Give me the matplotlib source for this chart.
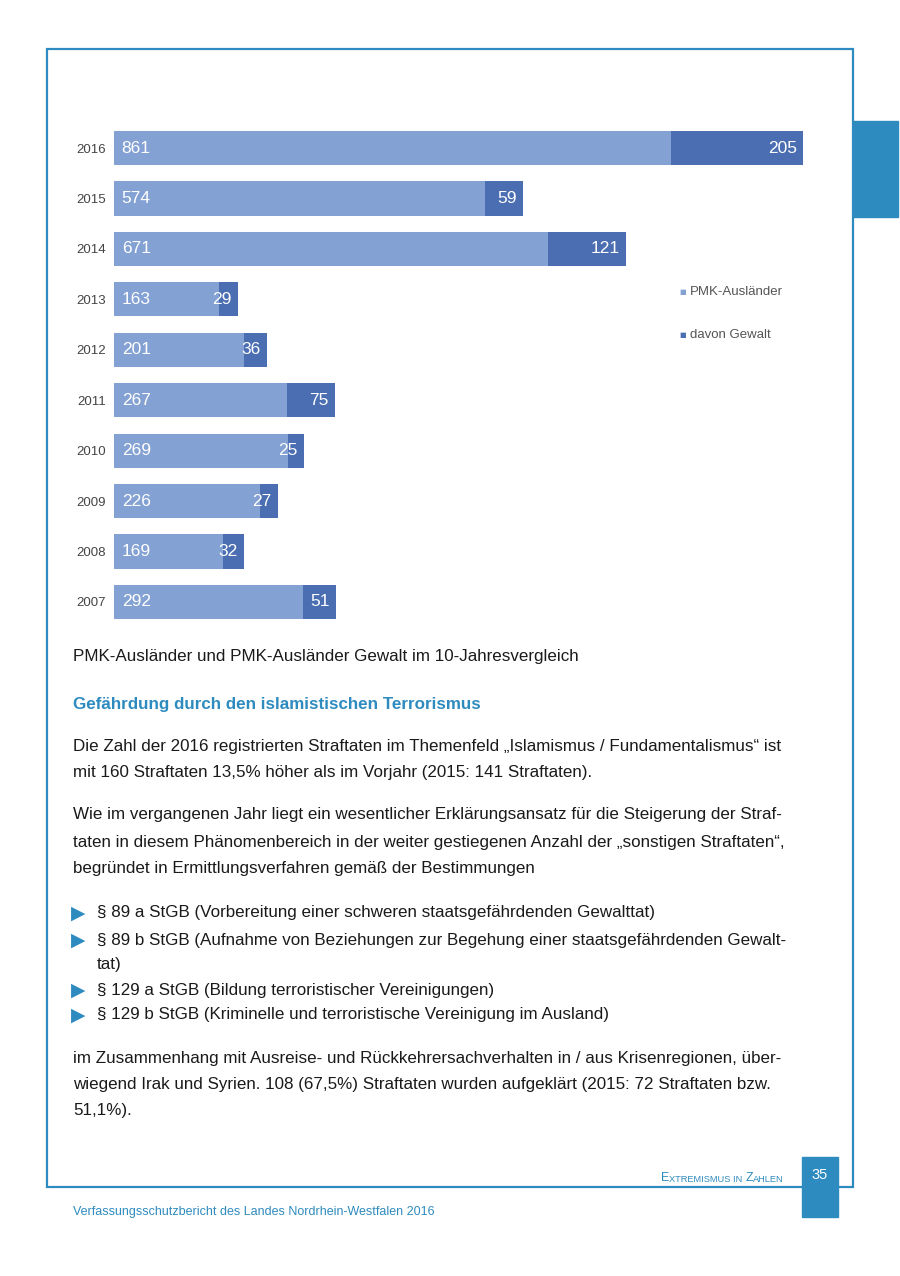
import matplotlib.pyplot as plt
from matplotlib.patches import Rectangle

plt.rcParams['font.family'] = ['Liberation Sans', 'DejaVu Sans']

# chart data
years = ["2016", "2015", "2014", "2013", "2012", "2011", "2010", "2009", "2008", "2007"]
pmk = [861, 574, 671, 163, 201, 267, 269, 226, 169, 292]
gewalt = [205, 59, 121, 29, 36, 75, 25, 27, 32, 51]

W, H = 900, 1276
fig = plt.figure(figsize=(9, 12.76), dpi=100)

blue = "#2e8bbf"
light = "#84a1d3"
dark = "#4a6eb1"


def fx(px):
    return px / W


def fy(py):
    return 1 - py / H


# page frame, side tab, page number box
fig.patches.append(Rectangle((fx(47), fy(1187)), fx(853) - fx(47), fy(49) - fy(1187),
                             transform=fig.transFigure, fill=False, edgecolor=blue, lw=1.6))
fig.patches.append(Rectangle((fx(853), fy(217)), fx(898) - fx(853), fy(121) - fy(217),
                             transform=fig.transFigure, color=blue, zorder=3))
fig.patches.append(Rectangle((fx(802), fy(1217)), fx(838) - fx(802), fy(1157) - fy(1217),
                             transform=fig.transFigure, color=blue, zorder=3))

# bar chart
ax = fig.add_axes([fx(114), fy(627.2), fx(803) - fx(114), (627.2 - 122.8) / H])
ypos = list(range(len(years)))
ax.barh(ypos, pmk, height=0.68, color=light)
ax.barh(ypos, gewalt, left=pmk, height=0.68, color=dark)
for i in ypos:
    ax.annotate(str(pmk[i]), (0, i), xytext=(5.5, 0), textcoords="offset points",
                va="center", ha="left", color="white", fontsize=12.5)
    ax.annotate(str(gewalt[i]), (pmk[i] + gewalt[i], i), xytext=(-4.5, 0), textcoords="offset points",
                va="center", ha="right", color="white", fontsize=12.5)
ax.set_xlim(0, 1066)
ax.set_ylim(9.5, -0.5)
ax.set_yticks(ypos)
ax.set_yticklabels(years, fontsize=9.5, color="#444444")
ax.tick_params(axis="y", length=0, pad=6)
ax.set_xticks([])
for s in ax.spines.values():
    s.set_visible(False)

# legend
fig.text(fx(679), fy(292), "■", fontsize=5, color=light, va="center", family="DejaVu Sans")
fig.text(fx(690), fy(292), "PMK-Ausländer", fontsize=9.5, color="#555555", va="center")
fig.text(fx(679), fy(335), "■", fontsize=5, color=dark, va="center", family="DejaVu Sans")
fig.text(fx(690), fy(335), "davon Gewalt", fontsize=9.5, color="#555555", va="center")

# page text
tc = "#1a1a1a"
fs = 12.25
fig.text(fx(73), fy(656), "PMK-Ausländer und PMK-Ausländer Gewalt im 10-Jahresvergleich",
         fontsize=fs, color=tc, va="center")
fig.text(fx(73), fy(704), "Gefährdung durch den islamistischen Terrorismus",
         fontsize=fs, color=blue, va="center", weight="bold")

lines = [
    (746, "Die Zahl der 2016 registrierten Straftaten im Themenfeld „Islamismus / Fundamentalismus“ ist"),
    (773, "mit 160 Straftaten 13,5% höher als im Vorjahr (2015: 141 Straftaten)."),
    (815, "Wie im vergangenen Jahr liegt ein wesentlicher Erklärungsansatz für die Steigerung der Straf-"),
    (842, "taten in diesem Phänomenbereich in der weiter gestiegenen Anzahl der „sonstigen Straftaten“,"),
    (869, "begründet in Ermittlungsverfahren gemäß der Bestimmungen"),
    (1058, "im Zusammenhang mit Ausreise- und Rückkehrersachverhalten in / aus Krisenregionen, über-"),
    (1085, "wiegend Irak und Syrien. 108 (67,5%) Straftaten wurden aufgeklärt (2015: 72 Straftaten bzw."),
    (1111, "51,1%)."),
]
for y, t in lines:
    fig.text(fx(73), fy(y), t, fontsize=fs, color=tc, va="center")

bullets = [
    (913, "§ 89 a StGB (Vorbereitung einer schweren staatsgefährdenden Gewalttat)", True),
    (940, "§ 89 b StGB (Aufnahme von Beziehungen zur Begehung einer staatsgefährdenden Gewalt-", True),
    (965, "tat)", False),
    (990, "§ 129 a StGB (Bildung terroristischer Vereinigungen)", True),
    (1015, "§ 129 b StGB (Kriminelle und terroristische Vereinigung im Ausland)", True),
]
for y, t, mark in bullets:
    if mark:
        fig.text(fx(71), fy(y), "▶", fontsize=13.5, color=blue, va="center", family="DejaVu Sans")
    fig.text(fx(97), fy(y), t, fontsize=fs, color=tc, va="center")

# footer, small caps built from pieces
parts = [("E", 9), ("XTREMISMUS IN ", 6.7), ("Z", 9), ("AHLEN", 6.7)]
anchor = fig.text(fx(661), fy(1181), parts[0][0], fontsize=parts[0][1], color=blue, va="baseline")
for t, s in parts[1:]:
    anchor = plt.annotate(t, xy=(1, 0), xycoords=anchor, fontsize=s, color=blue, va="bottom",
                          annotation_clip=False)
fig.text(fx(820), fy(1175), "35", fontsize=10.5, color="white", ha="center", va="center", zorder=4)
fig.text(fx(73), fy(1212), "Verfassungsschutzbericht des Landes Nordrhein-Westfalen 2016",
         fontsize=9, color=blue, va="center")

fig.savefig("out.png", dpi=100)
